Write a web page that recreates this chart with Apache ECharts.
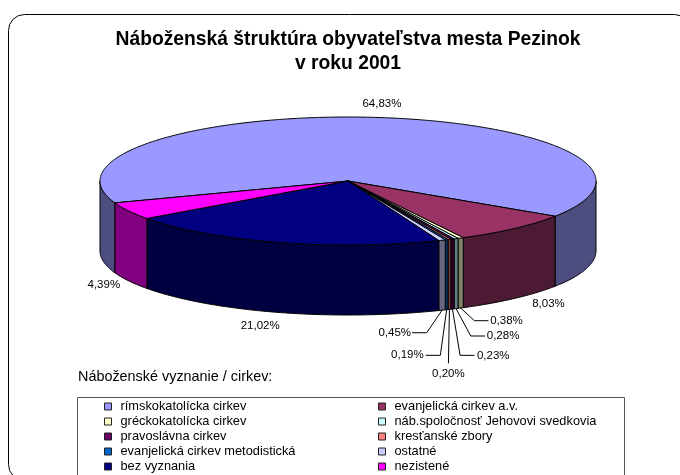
<!DOCTYPE html>
<html>
<head>
<meta charset="utf-8">
<style>
  html, body { margin: 0; padding: 0; background: #fff; }
  #chart { width: 680px; height: 475px; }
</style>
<script src="https://cdn.jsdelivr.net/npm/echarts@6/dist/echarts.min.js"></script>
</head>
<body>
<div id="chart"></div>
<script>
const categories = [
  'rímskokatolícka cirkev',
  'evanjelická cirkev a.v.',
  'gréckokatolícka cirkev',
  'náb.spoločnosť Jehovovi svedkovia',
  'pravoslávna cirkev',
  'kresťanské zbory',
  'evanjelická cirkev metodistická',
  'ostatné',
  'bez vyznania',
  'nezistené'
];
const shares = [64.83, 8.03, 0.38, 0.28, 0.23, 0.20, 0.19, 0.45, 21.02, 4.39];
const topColors = ['#9999FF', '#993366', '#FFFFCC', '#CCFFFF', '#660066', '#FF8080', '#0066CC', '#CCCCFF', '#000080', '#FF00FF'];
const sideColors = ['#4D4D80', '#4D1A33', '#808066', '#668080', '#330033', '#804040', '#003366', '#666680', '#000040', '#800080'];

// pie geometry
const cx = 348, cy = 181, rx = 248, ry = 64, depth = 70;
const firstAngle = 160; // where the first slice starts, degrees clockwise from east

// label offsets from the rim point of the slice: [labelDx, labelDy, align, elbowDx, elbowDy, endDx]
const labelLayout = [
  [5, -14, 'center'],
  [34, 5.5, 'center'],
  [29.5, 12.7, 'left', 13.7, 12.7, 27.7],
  [30.7, 27.4, 'left', 14.7, 27.4, 29],
  [24.5, 46.3, 'left', 7.6, 46.3, 22],
  [-1, 64, 'center', -1, 54, -1],
  [-23, 45.6, 'right', -6.3, 45.6, -21],
  [-31, 22.5, 'right', -15.3, 22.5, -30],
  [-18, 13, 'center'],
  [-25, 4, 'center']
];

const rimPoint = (deg, dy) => {
  const t = deg * Math.PI / 180;
  return [cx + rx * Math.cos(t), cy + ry * Math.sin(t) + dy];
};

const arcPoints = (from, to, dy) => {
  const pts = [];
  const n = Math.max(2, Math.ceil((to - from) * 2));
  for (let i = 0; i <= n; i++) {
    pts.push(rimPoint(from + (to - from) * i / n, dy));
  }
  return pts;
};

const sidePolygon = (from, to, color) => ({
  type: 'polygon',
  z2: 1,
  shape: { points: arcPoints(from, to, 0).concat(arcPoints(from, to, depth).reverse()) },
  style: { fill: color, stroke: '#000', lineWidth: 1 }
});

const makeRenderItem = (index, start, end) => () => {
  const children = [];
  // only the front half of the wall can be seen
  [[0, 180], [360, 540]].forEach(([a, b]) => {
    const from = Math.max(start, a), to = Math.min(end, b);
    if (to > from) children.push(sidePolygon(from, to, sideColors[index]));
  });
  children.push({
    type: 'polygon',
    z2: 2,
    shape: { points: [[cx, cy]].concat(arcPoints(start, end, 0)) },
    style: { fill: topColors[index], stroke: '#000', lineWidth: 1 }
  });

  const mid = (start + end) / 2;
  const isFront = Math.sin(mid * Math.PI / 180) > 0;
  const anchor = rimPoint(mid, isFront ? depth : 0);
  const [labelDx, labelDy, align, elbowDx, elbowDy, endDx] = labelLayout[index];
  if (elbowDx !== undefined) {
    children.push({
      type: 'polyline',
      z2: 3,
      shape: { points: [
        anchor,
        [anchor[0] + elbowDx, anchor[1] + elbowDy],
        [anchor[0] + endDx, anchor[1] + elbowDy]
      ] },
      style: { fill: 'none', stroke: '#000', lineWidth: 1 }
    });
  }
  children.push({
    type: 'text',
    z2: 4,
    style: {
      text: shares[index].toFixed(2).replace('.', ',') + '%',
      x: anchor[0] + labelDx,
      y: anchor[1] + labelDy,
      align: align,
      verticalAlign: 'middle',
      fill: '#000',
      font: '11.5px "Liberation Sans", Arial, sans-serif'
    }
  });
  return { type: 'group', children: children };
};

let angle = firstAngle;
const series = categories.map((name, i) => {
  const start = angle;
  angle += shares[i] * 3.6;
  return {
    type: 'custom',
    name: name,
    coordinateSystem: 'none',
    silent: true,
    animation: false,
    itemStyle: { color: topColors[i] },
    data: [shares[i]],
    renderItem: makeRenderItem(i, start, angle)
  };
});

const legendBase = {
  orient: 'vertical',
  top: 400,
  height: 300, // runs past the window, keeps all five rows in one column
  icon: 'rect',
  itemWidth: 7,
  itemHeight: 7,
  itemGap: 2,
  selectedMode: false,
  padding: 0,
  itemStyle: { borderColor: '#222', borderWidth: 1 },
  textStyle: {
    fontFamily: '"Liberation Sans", Arial, sans-serif',
    fontSize: 12.8,
    lineHeight: 12,
    color: '#000',
    padding: [0, 0, 0, 4]
  }
};

const chart = echarts.init(document.getElementById('chart'));
chart.setOption({
  animation: false,
  backgroundColor: '#fff',
  title: [{
    text: 'Náboženská štruktúra obyvateľstva mesta Pezinok\nv roku 2001',
    left: 348,
    top: 28,
    textAlign: 'center',
    padding: 0,
    textStyle: {
      fontFamily: '"Liberation Sans", Arial, sans-serif',
      fontSize: 19.3,
      fontWeight: 'bold',
      lineHeight: 24,
      color: '#000'
    }
  }, {
    text: 'Náboženské vyznanie / cirkev:',
    left: 78,
    top: 370,
    padding: 0,
    textStyle: {
      fontFamily: '"Liberation Sans", Arial, sans-serif',
      fontSize: 14.4,
      fontWeight: 'normal',
      color: '#000'
    }
  }],
  legend: [
    Object.assign({}, legendBase, { left: 104, data: categories.filter((c, i) => i % 2 === 0) }),
    Object.assign({}, legendBase, { left: 378, data: categories.filter((c, i) => i % 2 === 1) })
  ],
  graphic: [{
    type: 'rect',
    silent: true,
    shape: { x: 8.5, y: 14.5, width: 682, height: 466, r: 16 },
    style: { fill: 'none', stroke: '#000', lineWidth: 1 }
  }, {
    type: 'rect',
    silent: true,
    shape: { x: 77.5, y: 397.5, width: 547, height: 90 },
    style: { fill: 'none', stroke: '#555', lineWidth: 1 }
  }],
  series: series
});
</script>
</body>
</html>
